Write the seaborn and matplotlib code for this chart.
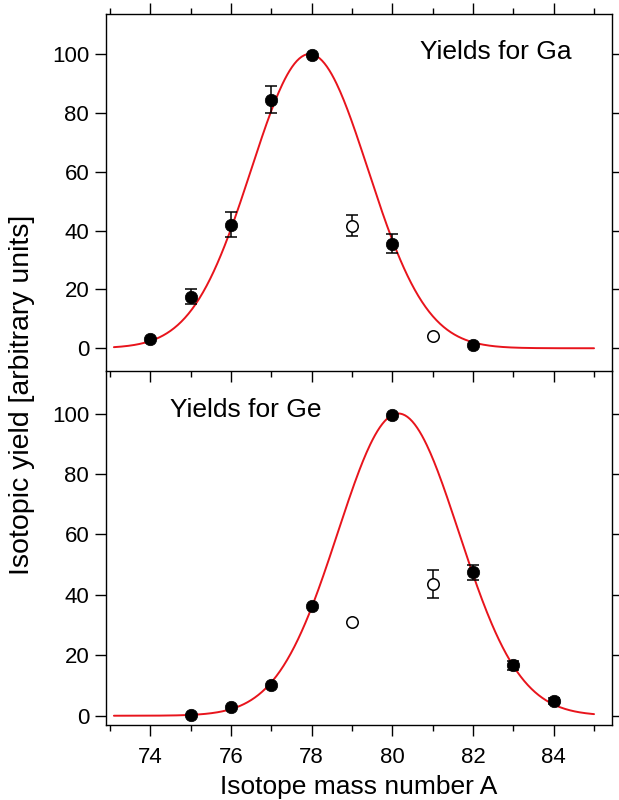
import numpy as np
import pandas as pd
import matplotlib
matplotlib.use("Agg")
import matplotlib.pyplot as plt
from matplotlib.ticker import MultipleLocator
import seaborn as sns

sns.set_theme(style="white")
plt.rcParams['font.family'] = ['Liberation Sans', 'DejaVu Sans']

# ---- data: Ga ----
ga_A_fill = [74, 75, 76, 77, 78, 80, 82]
ga_Y_fill = [3.0, 17.5, 42.0, 84.5, 99.5, 35.5, 1.0]
ga_E_fill = [0.0, 2.5, 4.2, 4.5, 0.0, 3.2, 0.0]
ga_A_open = [79, 81]
ga_Y_open = [41.7, 4.0]
ga_E_open = [3.5, 0.0]
ga_fit = dict(center=77.95, sigma=1.45, amp=100.0)

# ---- data: Ge ----
ge_A_fill = [75, 76, 77, 78, 80, 82, 83, 84]
ge_Y_fill = [0.3, 3.0, 10.2, 36.2, 99.5, 47.5, 16.7, 4.8]
ge_E_fill = [0.0, 0.0, 0.0, 0.0, 0.0, 2.5, 1.5, 1.0]
ge_A_open = [79, 81]
ge_Y_open = [31.0, 43.5]
ge_E_open = [0.0, 4.7]
ge_fit = dict(center=80.15, sigma=1.5, amp=100.0)

fit_range = (73.1, 85.0)
x_ticks = [74, 76, 78, 80, 82, 84]
y_ticks = [0, 20, 40, 60, 80, 100]

fig = plt.figure(figsize=(6.19, 8.0), dpi=100)
L, R = 0.171, 0.989
ax1 = fig.add_axes([L, 0.536, R - L, 0.9825 - 0.536])
ax2 = fig.add_axes([L, 0.094, R - L, 0.536 - 0.094])
ax2.patch.set_alpha(0)
ax1.set_zorder(2)
ax1.patch.set_alpha(0)


def gauss(p):
    xs = np.linspace(fit_range[0], fit_range[1], 400)
    ys = p['amp'] * np.exp(-(xs - p['center']) ** 2 / (2 * p['sigma'] ** 2))
    return pd.DataFrame({'A': xs, 'Y': ys})


def draw(ax, Af, Yf, Ef, Ao, Yo, Eo, fit):
    sns.lineplot(data=gauss(fit), x='A', y='Y', ax=ax, color='#e8141c', lw=1.4, zorder=2)
    ef = [i for i, e in enumerate(Ef) if e > 0]
    if ef:
        ax.errorbar([Af[i] for i in ef], [Yf[i] for i in ef], yerr=[Ef[i] for i in ef],
                    fmt='none', ecolor='black', elinewidth=1.1, capsize=4, capthick=1.1, zorder=3)
    eo = [i for i, e in enumerate(Eo) if e > 0]
    if eo:
        ax.errorbar([Ao[i] for i in eo], [Yo[i] for i in eo], yerr=[Eo[i] for i in eo],
                    fmt='none', ecolor='black', elinewidth=1.1, capsize=4, capthick=1.1, zorder=3)
    sns.scatterplot(x=Af, y=Yf, ax=ax, s=80, color='black', edgecolor='black', linewidth=0.5, zorder=4)
    sns.scatterplot(x=Ao, y=Yo, ax=ax, s=68, facecolor='white', edgecolor='black', linewidth=1.1, zorder=4)
    ax.set_xlim(72.9, 85.45)
    ax.xaxis.set_major_locator(MultipleLocator(2))
    ax.xaxis.set_minor_locator(MultipleLocator(1))
    ax.set_yticks(y_ticks)
    ax.set_xlabel('')
    ax.set_ylabel('')
    for s in ax.spines.values():
        s.set_color('black')
        s.set_linewidth(1.0)
    ax.tick_params(axis='both', which='major', direction='out', length=8, width=1.0,
                   color='black', labelsize=16, labelcolor='black', pad=4)
    ax.tick_params(axis='x', which='major', pad=8)
    ax.tick_params(axis='x', which='minor', direction='out', length=4.5, width=1.0, color='black')
    ax.tick_params(axis='y', which='both', left=True, right=True, labelright=False)


draw(ax1, ga_A_fill, ga_Y_fill, ga_E_fill, ga_A_open, ga_Y_open, ga_E_open, ga_fit)
draw(ax2, ge_A_fill, ge_Y_fill, ge_E_fill, ge_A_open, ge_Y_open, ge_E_open, ge_fit)

ax1.set_ylim(-7.8, 113.6)
ax2.set_ylim(-3.0, 114.0)

ax1.tick_params(axis='x', which='both', top=True, bottom=True, labelbottom=False, labeltop=False)
ax2.tick_params(axis='x', which='both', top=False, bottom=True, labelbottom=True)
ax2.spines['top'].set_visible(False)
ax2.set_xticks(x_ticks)
ax2.set_xticklabels([str(v) for v in x_ticks])

ax1.text(80.68, 100.7, 'Yields for Ga', fontsize=19, va='center', ha='left', color='black')
ax2.text(74.48, 101.0, 'Yields for Ge', fontsize=19, va='center', ha='left', color='black')

ax2.set_xlabel('Isotope mass number A', fontsize=19, color='black', labelpad=5)
fig.text(0.035, 0.506, 'Isotopic yield [arbitrary units]', rotation=90, fontsize=20.5,
         va='center', ha='center', color='black')

fig.savefig('out.png', dpi=100)
